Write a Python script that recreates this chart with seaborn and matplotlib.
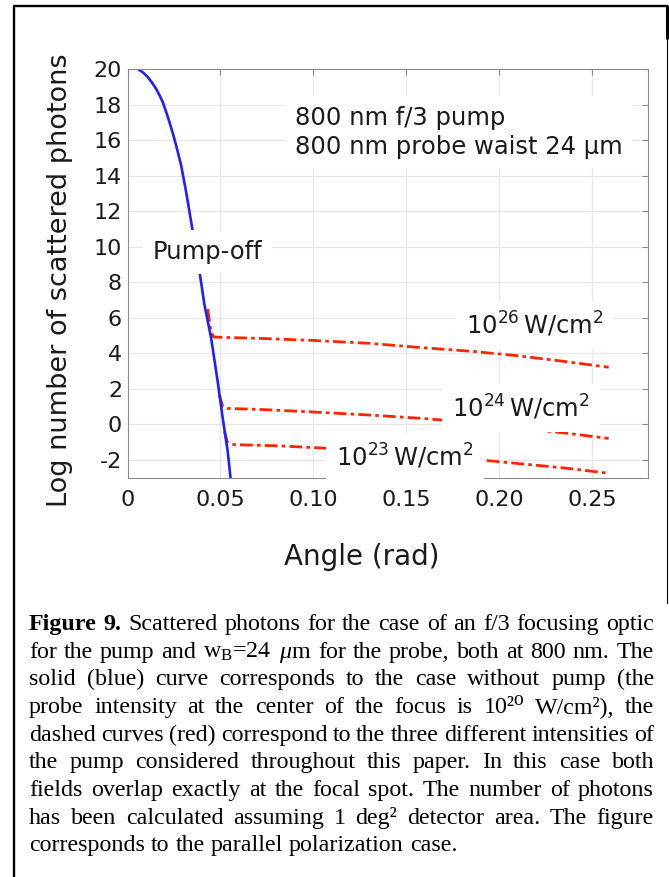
import matplotlib
matplotlib.use("Agg")
import matplotlib.pyplot as plt
import seaborn as sns
from matplotlib.lines import Line2D

# pump-off curve (blue, solid)
PUMP_OFF_ANGLE = [0.0058, 0.0083, 0.0108, 0.0130, 0.0153, 0.0171, 0.0189, 0.0207, 0.0225,
                  0.0243, 0.0261, 0.0288, 0.0315, 0.0342, 0.0387, 0.0414, 0.0450,
                  0.0485, 0.0512, 0.0539, 0.0554]
PUMP_OFF_LOG = [20.0, 19.82, 19.57, 19.27, 18.91, 18.56, 18.16, 17.62, 17.04,
                16.41, 15.73, 14.6, 13.1, 11.42, 8.6, 6.73, 4.85,
                2.42, 0.36, -1.52, -3.0]

# pump-on curves (red, dash-dot)
I26_ANGLE = [0.0432, 0.0448, 0.0465, 0.070, 0.100, 0.130, 0.160, 0.185, 0.210, 0.235, 0.259]
I26_LOG = [6.5, 5.2, 4.92, 4.85, 4.73, 4.57, 4.31, 4.12, 3.87, 3.55, 3.22]
I24_ANGLE = [0.0494, 0.0512, 0.054, 0.070, 0.100, 0.130, 0.160, 0.185, 0.210, 0.235, 0.259]
I24_LOG = [1.67, 1.01, 0.90, 0.85, 0.70, 0.53, 0.33, 0.10, -0.20, -0.48, -0.79]
I23_ANGLE = [0.0521, 0.0539, 0.0575, 0.080, 0.105, 0.130, 0.160, 0.185, 0.210, 0.235, 0.259]
I23_LOG = [-0.39, -1.05, -1.14, -1.20, -1.33, -1.50, -1.72, -1.95, -2.20, -2.45, -2.75]

X_TICKS = [0, 0.05, 0.10, 0.15, 0.20, 0.25]
X_TICK_LABELS = ["0", "0.05", "0.10", "0.15", "0.20", "0.25"]
Y_TICKS = [-2, 0, 2, 4, 6, 8, 10, 12, 14, 16, 18, 20]
Y_TICK_LABELS = ["-2", "0", "2", "4", "6", "8", "10", "12", "14", "16", "18", "20"]

CAPTION = [
    "Figure 9. Scattered photons for the case of an f/3 focusing optic",
    r"for the pump and w$_\mathrm{B}$=24 $\mu$m for the probe, both at 800 nm. The",
    "solid (blue) curve corresponds to the case without pump (the",
    "probe intensity at the center of the focus is 10²⁰ W/cm²), the",
    "dashed curves (red) correspond to the three different intensities of",
    "the pump considered throughout this paper. In this case both",
    "fields overlap exactly at the focal spot.  The number of photons",
    "has been calculated assuming 1 deg² detector area. The figure",
    "corresponds to the parallel polarization case.",
]

BLUE = "#1f1fff"
RED = "#ff2400"
INK = "#1a1a1a"
W, H = 669, 877

sns.set_theme(style="white")
plt.rcParams["font.family"] = ["DejaVu Sans"]
plt.rcParams["axes.unicode_minus"] = False
plt.rcParams["mathtext.rm"] = "Liberation Serif"
plt.rcParams["mathtext.it"] = "Liberation Serif:italic"
plt.rcParams["mathtext.bf"] = "Liberation Serif:bold"

fig = plt.figure(figsize=(W / 100, H / 100), dpi=100)
ax = fig.add_axes([127.6 / W, 1 - 477.7 / H, 520.1 / W, 408.4 / H])

dashdot = (0, (4.6, 1.5, 1.3, 1.5))
for xs, ys in [(I26_ANGLE, I26_LOG), (I24_ANGLE, I24_LOG), (I23_ANGLE, I23_LOG)]:
    sns.lineplot(x=xs, y=ys, ax=ax, color=RED, lw=2.0, linestyle=dashdot,
                 estimator=None, sort=False, zorder=2)
sns.lineplot(x=PUMP_OFF_ANGLE, y=PUMP_OFF_LOG, ax=ax, color=BLUE, lw=1.9,
             estimator=None, sort=False, zorder=2.5)

ax.set_xlim(0, 0.28)
ax.set_ylim(-3, 20)
ax.set_xticks(X_TICKS)
ax.set_xticklabels(X_TICK_LABELS)
ax.set_yticks(Y_TICKS)
ax.set_yticklabels(Y_TICK_LABELS)
ax.grid(True, color="#e6e6e6", lw=0.8)
ax.set_axisbelow(True)
for sp in ax.spines.values():
    sp.set_color("#8c8c8c")
    sp.set_linewidth(0.8)
ax.tick_params(direction="in", length=4, width=0.8, color="#8c8c8c",
               top=True, right=True, labelsize=16, labelcolor=INK)
ax.tick_params(axis="x", pad=9)
ax.tick_params(axis="y", pad=4)

ax.set_xlabel("Angle (rad)", fontsize=20, color=INK, va="center")
ax.xaxis.set_label_coords((362 - 127.6) / 520.1, (477.7 - 557) / 408.4)
ax.set_ylabel("Log number of scattered photons", fontsize=19.5, color=INK, va="center")
ax.yaxis.set_label_coords((60 - 127.6) / 520.1, (477.7 - 280) / 408.4)

box = dict(facecolor="white", edgecolor="none", boxstyle="square,pad=0.4")
ax.text(0.090, 16.45, "800 nm f/3 pump\n800 nm probe waist 24 μm", fontsize=17.5,
        color=INK, va="center", ha="left", linespacing=1.25, bbox=box, zorder=4)
ax.text(0.0137, 9.71, "Pump-off", fontsize=17.5, color=INK,
        va="center", ha="left", bbox=box, zorder=4)
label_kw = dict(fontsize=17.5, color=INK, va="center", ha="left",
                bbox=box, zorder=4, math_fontfamily="dejavusans")
ax.text(0.182, 5.6, r"10$^{26}\,$W/cm$^2$", **label_kw)
ax.text(0.1747, 0.93, r"10$^{24}\,$W/cm$^2$", **label_kw)
ax.text(0.1122, -1.83, r"10$^{23}\,$W/cm$^2$", **label_kw)

# outer frame
frame = dict(transform=fig.transFigure, color="black")
fig.add_artist(Line2D([13.5 / W, 666.5 / W], [1 - 5.5 / H, 1 - 5.5 / H], lw=1.7, **frame))
fig.add_artist(Line2D([13.5 / W, 13.5 / W], [0, 1 - 5.5 / H], lw=1.7, **frame))
fig.add_artist(Line2D([666.5 / W, 666.5 / W], [1 - 38 / H, 1 - 5.5 / H], lw=2.2, **frame))
fig.add_artist(Line2D([666.5 / W, 666.5 / W], [1 - 603 / H, 1 - 38 / H], lw=0.8, **frame))

# justified caption
renderer = fig.canvas.get_renderer()
left, right, base, step, size = 29, 654, 630, 27.65, 17.3
for i, line in enumerate(CAPTION):
    words = line.split()
    texts = []
    for j, word in enumerate(words):
        bold = i == 0 and j < 2
        texts.append(fig.text(0, 1 - (base + i * step) / H, word, fontsize=size,
                              family=["Liberation Serif", "DejaVu Serif"], color="black",
                              weight="bold" if bold else "normal",
                              va="baseline", ha="left", math_fontfamily="custom"))
    widths = [t.get_window_extent(renderer).width for t in texts]
    if i < len(CAPTION) - 1:
        gap = (right - left - sum(widths)) / (len(words) - 1)
    else:
        gap = size * 0.25 * 100 / 72
    x = left
    for t, wd in zip(texts, widths):
        t.set_x(x / W)
        x += wd + gap

fig.savefig("out.png", dpi=100)
